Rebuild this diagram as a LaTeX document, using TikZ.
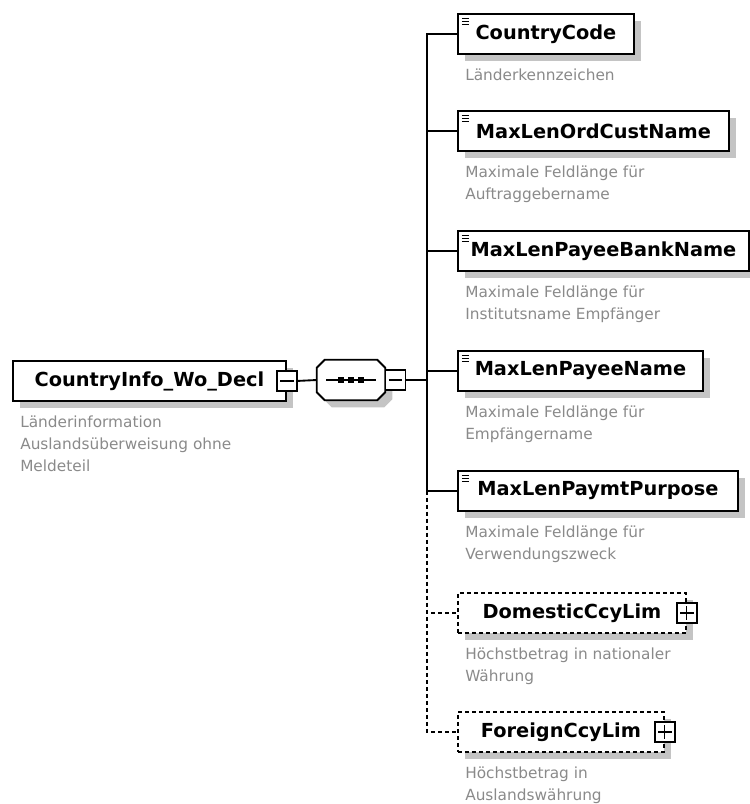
\documentclass[tikz,border=0pt]{standalone}
\usepackage{fontspec}
\newfontfamily\dejavu{DejaVu Sans}
\usetikzlibrary{shadows}
\definecolor{shadowgray}{HTML}{C4C4C4}
\definecolor{descgray}{HTML}{8A8A8A}
\def\pxu{0.75pt}
\newcommand\titlefont{\dejavu\bfseries\fontsize{14.5}{17}\selectfont}
\newcommand\descfont{\dejavu\fontsize{11.5}{16.5}\selectfont}

\begin{document}
\begin{tikzpicture}[x=0.75pt,y=-0.75pt,
  conn/.style={line width=1.4pt},
  optconn/.style={conn, dash pattern=on 3pt off 2.25pt},
  boxshadow/.style={drop shadow={shadow xshift=5.25pt, shadow yshift=-5.25pt, fill=shadowgray, opacity=1}},
  elem/.style={draw, fill=white, line width=1.4pt, anchor=north west,
    minimum width=#1*\pxu, minimum height=30pt, inner sep=0pt,
    font=\titlefont, boxshadow},
  typed/.style={elem=#1, path picture={
      \foreach \k in {4,7,10}
        \draw[line width=0.6pt] ([xshift=3pt,yshift=-\k*0.75pt]path picture bounding box.north west) -- ++(5.25pt,0);}},
  optelem/.style={elem=#1, dash pattern=on 3pt off 2.25pt},
  pmbox/.style={draw, fill=white, line width=1pt, minimum size=15pt, inner sep=0pt},
  minus/.style={pmbox, path picture={
      \draw[line width=0.9pt] ([xshift=2.5pt]path picture bounding box.west) -- ([xshift=-2.5pt]path picture bounding box.east);}},
  plus/.style={pmbox, path picture={
      \draw[line width=0.9pt] ([xshift=2.5pt]path picture bounding box.west) -- ([xshift=-2.5pt]path picture bounding box.east);
      \draw[line width=0.9pt] ([yshift=-2.5pt]path picture bounding box.north) -- ([yshift=2.5pt]path picture bounding box.south);}},
  seqframe/.style={minimum width=51pt, minimum height=30pt, inner sep=0pt},
  desc/.style={anchor=north west, inner sep=0pt, align=left, font=\descfont, text=descgray}
]
\useasboundingbox (0,0) rectangle (750,804);

% root element
\node[elem=273] (root) at (12,360) {CountryInfo\_Wo\_Decl};
\node[minus] (rootm) at (root.east) {};
\node[desc] (rootd) at (20,416) {Länderinformation\\Auslandsüberweisung ohne\\Meldeteil};

% sequence compositor: octagon with shadow
\node[seqframe] (seqsh) at (358,387) {};
\node[seqframe] (seq) at (351,380) {};
\fill[shadowgray] ([xshift=6pt]seqsh.north west) -- ([xshift=-6pt]seqsh.north east)
  -- ([yshift=-6pt]seqsh.north east) -- ([yshift=6pt]seqsh.south east)
  -- ([xshift=-6pt]seqsh.south east) -- ([xshift=6pt]seqsh.south west)
  -- ([yshift=6pt]seqsh.south west) -- ([yshift=-6pt]seqsh.north west) -- cycle;
\filldraw[fill=white, line width=1.4pt] ([xshift=6pt]seq.north west) -- ([xshift=-6pt]seq.north east)
  -- ([yshift=-6pt]seq.north east) -- ([yshift=6pt]seq.south east)
  -- ([xshift=-6pt]seq.south east) -- ([xshift=6pt]seq.south west)
  -- ([yshift=6pt]seq.south west) -- ([yshift=-6pt]seq.north west) -- cycle;
\draw[line width=1.2pt] ([xshift=-18.75pt]seq.center) -- ([xshift=18.75pt]seq.center);
\foreach \dx in {-10,0,10}
  \fill ([xshift=\dx*0.75pt]seq.center) +(-3,-3) rectangle +(3,3);
\node[minus] (seqm) at (395.5,380) {};
\coordinate (jn) at (427,380);

\draw[conn] (rootm.east) -- (seq.west);
\draw[conn] (seqm.east) -- (jn);

% child elements
\node[typed=176] (cc) at (457,13) {CountryCode};
\node[desc] (ccd) at (465,69) {Länderkennzeichen};

\node[typed=271] (ocn) at (457,110) {MaxLenOrdCustName};
\node[desc] (ocnd) at (465,166) {Maximale Feldlänge für\\Auftraggebername};

\node[typed=291] (pbn) at (457,230) {MaxLenPayeeBankName};
\node[desc] (pbnd) at (465,286) {Maximale Feldlänge für\\Institutsname Empfänger};

\node[typed=245] (pn) at (457,350) {MaxLenPayeeName};
\node[desc] (pnd) at (465,406) {Maximale Feldlänge für\\Empfängername};

\node[typed=280] (mp) at (457,470) {MaxLenPaymtPurpose};
\node[desc] (mpd) at (465,526) {Maximale Feldlänge für\\Verwendungszweck};

\node[optelem=228] (dom) at (457,592) {DomesticCcyLim\hspace{10pt}};
\node[plus] (domp) at (dom.east) {};
\node[desc] (domd) at (465,648) {Höchstbetrag in nationaler\\Währung};

\node[optelem=206] (fcl) at (457,711) {ForeignCcyLim\hspace{10pt}};
\node[plus] (fclp) at (fcl.east) {};
\node[desc] (fcld) at (465,767) {Höchstbetrag in\\Auslandswährung};

% connectors from the sequence to its children
\draw[conn] (jn) |- (cc.west);
\draw[conn] (jn) |- (ocn.west);
\draw[conn] (jn) |- (pbn.west);
\draw[conn] (jn) |- (pn.west);
\draw[conn] (jn) |- (mp.west);
\draw[optconn] (jn |- mp.west) |- (dom.west);
\draw[optconn] (jn |- mp.west) |- (fcl.west);
\end{tikzpicture}
\end{document}
